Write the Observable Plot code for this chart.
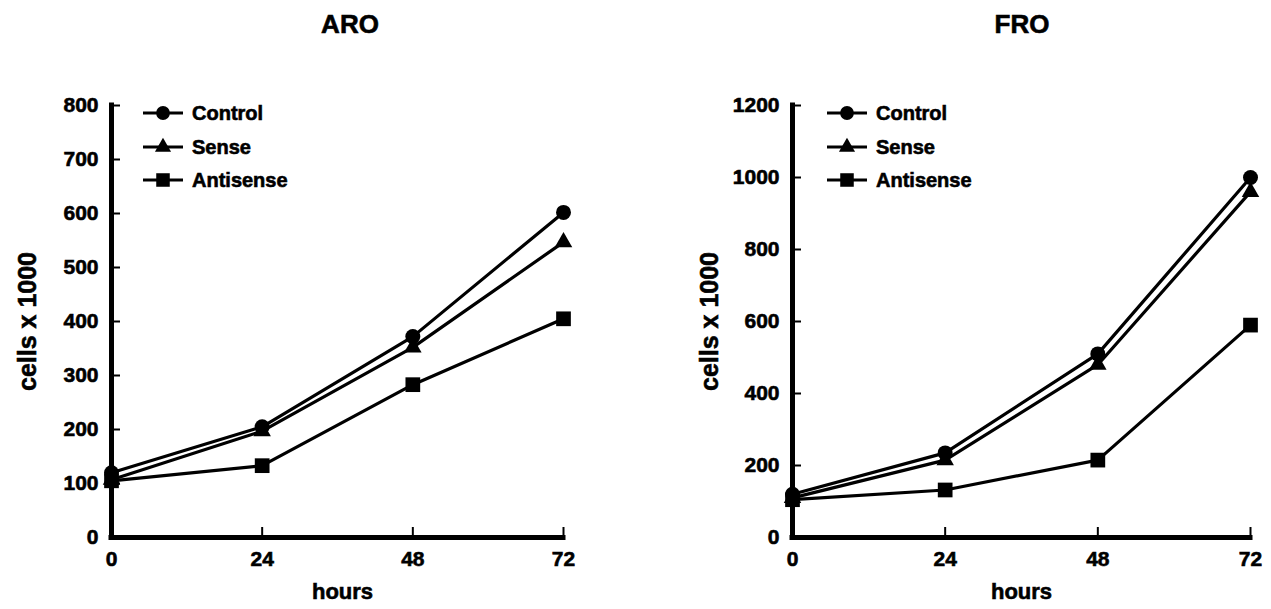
<!DOCTYPE html>
<html><head><meta charset="utf-8">
<script src="https://cdn.jsdelivr.net/npm/d3@7"></script>
<script src="https://cdn.jsdelivr.net/npm/@observablehq/plot@0.6"></script>
<style>
body{margin:0;background:#fff;font-family:"Liberation Sans",Arial,Helvetica,sans-serif;font-weight:bold;color:#000;}
#wrap{position:relative;width:1271px;height:609px;overflow:hidden;background:#fff;}
.panel{position:absolute;top:0;height:609px;}
.panel svg text{stroke:#000;stroke-width:0.6px;}
.title{position:absolute;top:11px;font-size:26px;line-height:26px;transform:translateX(-50%);white-space:nowrap;-webkit-text-stroke:0.6px #000;}
.legend{position:absolute;font-size:20px;-webkit-text-stroke:0.6px #000;}
.legend .row{position:absolute;left:0;height:22px;display:flex;align-items:center;white-space:nowrap;}
.legend svg{display:block;overflow:visible;}
.legend span{margin-left:9px;line-height:22px;}
</style></head><body><div id="wrap"></div>
<script>
// ---- data ----
const hours = [0, 24, 48, 72];
const seriesNames = ["Control", "Sense", "Antisense"];
const seriesSymbols = ["circle", "triangle", "square"];

const aroControl   = [120, 205, 372, 602];
const aroSense     = [107, 197, 352, 547];
const aroAntisense = [105, 133, 283, 405];
const aroYTicks = [0, 100, 200, 300, 400, 500, 600, 700, 800];

const froControl   = [120, 235, 510, 1000];
const froSense     = [110, 215, 480, 960];
const froAntisense = [105, 132, 215, 590];
const froYTicks = [0, 200, 400, 600, 800, 1000, 1200];

const titles = ["ARO", "FRO"];
const xLabel = "hours";
const yLabel = "cells x 1000";

function table(control, sense, antisense) {
  const rows = [];
  [control, sense, antisense].forEach((vals, i) => {
    vals.forEach((v, j) => rows.push({series: seriesNames[i], hours: hours[j], cells: v}));
  });
  return rows;
}

const FONT = '"Liberation Sans", Arial, Helvetica, sans-serif';
const dotR = {Control: 7.5, Sense: 6.5, Antisense: 8.3};

function makePanel({left, width, marginLeft, marginRight, data, yTicks, title, titleX, legendLeft, labelDx, hoursDx}) {
  const panel = document.createElement("div");
  panel.className = "panel";
  panel.style.left = left + "px";
  panel.style.width = width + "px";
  document.getElementById("wrap").appendChild(panel);

  const chart = Plot.plot({
    width, height: 609,
    marginLeft, marginRight, marginTop: 105, marginBottom: 72,
    style: {fontFamily: FONT, fontWeight: "bold", background: "transparent", overflow: "visible", color: "black"},
    x: {domain: [0, 72]},
    y: {domain: [0, yTicks[yTicks.length - 1]]},
    symbol: {domain: seriesNames, range: seriesSymbols},
    marks: [
      // inward tick marks
      Plot.axisY({ticks: yTicks, tickSize: 9, dx: 9, tickFormat: () => "", strokeWidth: 2, label: null}),
      Plot.axisX({ticks: hours, tickSize: 10, dy: -10, tickFormat: () => "", strokeWidth: 2, label: null}),
      // tick labels
      Plot.axisY({ticks: yTicks, tickSize: 0, tickPadding: 13, tickFormat: d => String(d), fontSize: 21, fontWeight: "bold", label: null}),
      Plot.axisX({ticks: hours, tickSize: 0, tickPadding: 14, tickFormat: d => String(d), fontSize: 21, fontWeight: "bold", label: null}),
      // axis lines
      Plot.ruleX([0], {strokeWidth: 5, strokeLinecap: "square"}),
      Plot.ruleY([0], {strokeWidth: 5, strokeLinecap: "square"}),
      // series
      Plot.line(data, {x: "hours", y: "cells", z: "series", stroke: "black", strokeWidth: 3.2}),
      ...seriesNames.map(s => Plot.dot(data, {
        filter: d => d.series === s, x: "hours", y: "cells",
        symbol: "series", fill: "black", stroke: "none", r: dotR[s]
      })),
      // axis titles
      Plot.text([xLabel], {text: d => d, frameAnchor: "bottom", textAnchor: "middle", dy: 61, dx: hoursDx, fontSize: 22, fontWeight: "bold"}),
      Plot.text([yLabel], {text: d => d, frameAnchor: "left", textAnchor: "middle", lineAnchor: "middle", dx: labelDx, rotate: -90, fontSize: 25, fontWeight: "bold"})
    ]
  });
  panel.appendChild(chart);

  const t = document.createElement("div");
  t.className = "title";
  t.style.left = titleX + "px";
  t.textContent = title;
  panel.appendChild(t);

  // legend (inside the plot, top-left)
  const legend = document.createElement("div");
  legend.className = "legend";
  legend.style.left = legendLeft + "px";
  legend.style.top = "0px";
  panel.appendChild(legend);
  const rowTops = [102, 136, 169];
  seriesNames.forEach((s, i) => {
    const row = document.createElement("div");
    row.className = "row";
    row.style.top = rowTops[i] + "px";
    const svg = d3.create("svg").attr("width", 40).attr("height", 22);
    svg.append("line").attr("x1", 0).attr("x2", 40).attr("y1", 11).attr("y2", 11)
      .attr("stroke", "black").attr("stroke-width", 3);
    const typ = {circle: d3.symbolCircle, triangle: d3.symbolTriangle, square: d3.symbolSquare}[seriesSymbols[i]];
    const r = dotR[s] * 0.92;
    svg.append("path").attr("transform", "translate(20,11)")
      .attr("d", d3.symbol(typ, Math.PI * r * r)()).attr("fill", "black");
    row.appendChild(svg.node());
    const span = document.createElement("span");
    span.textContent = s;
    row.appendChild(span);
    legend.appendChild(row);
  });
}

makePanel({
  left: 0, width: 635, marginLeft: 111, marginRight: 72,
  data: table(aroControl, aroSense, aroAntisense), yTicks: aroYTicks,
  title: titles[0], titleX: 350, legendLeft: 143, labelDx: -84, hoursDx: 5
});
makePanel({
  left: 635, width: 636, marginLeft: 157, marginRight: 21,
  data: table(froControl, froSense, froAntisense), yTicks: froYTicks,
  title: titles[1], titleX: 387, legendLeft: 192, labelDx: -83, hoursDx: 0
});
</script></body></html>
